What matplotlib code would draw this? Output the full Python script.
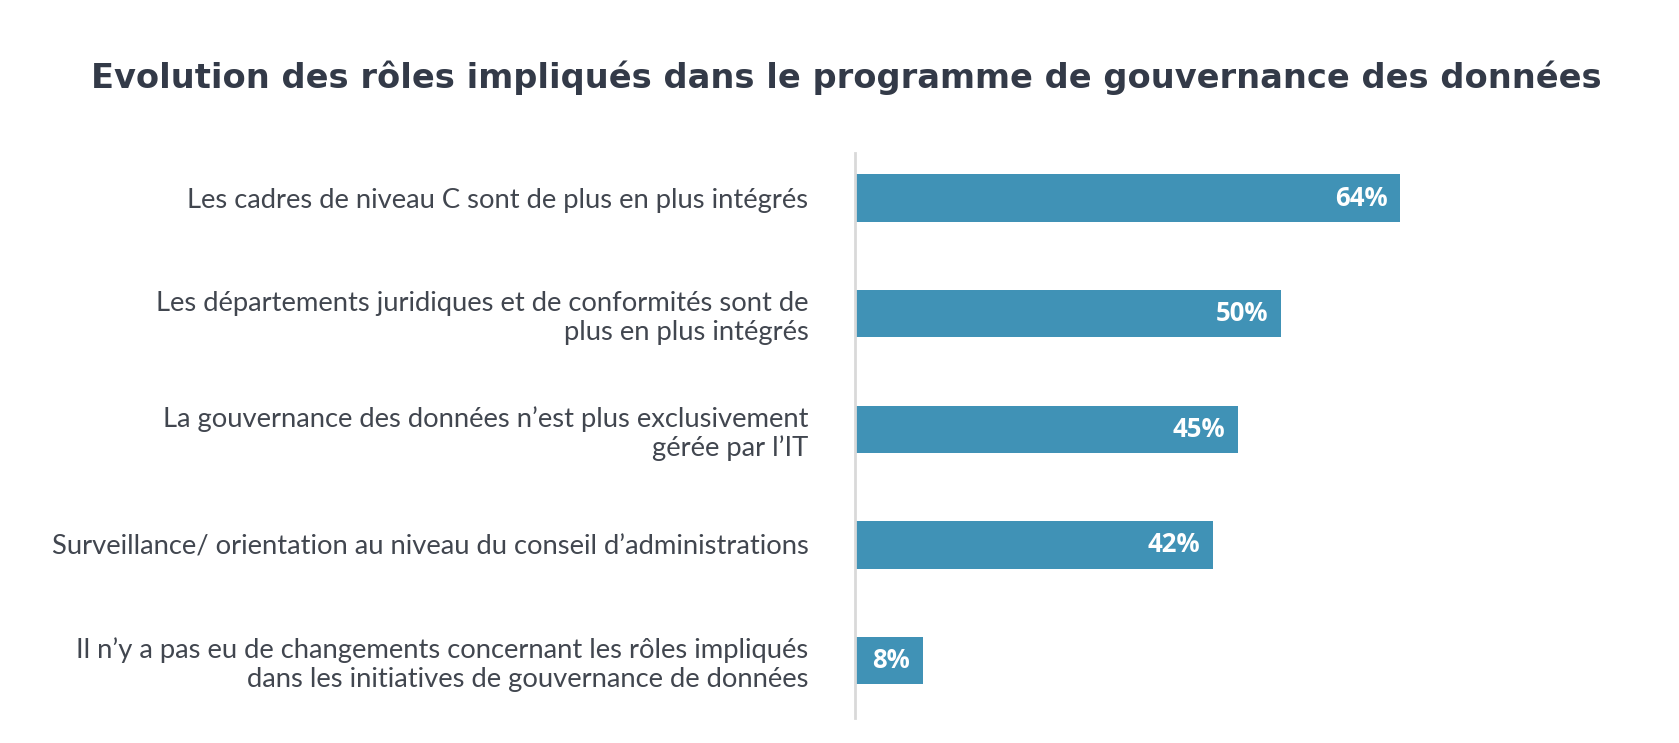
import matplotlib.pyplot as plt

categories = [
    "Les cadres de niveau C sont de plus en plus intégrés",
    "Les départements juridiques et de conformités sont de\nplus en plus intégrés",
    "La gouvernance des données n’est plus exclusivement\ngérée par l’IT",
    "Surveillance/ orientation au niveau du conseil d’administrations",
    "Il n’y a pas eu de changements concernant les rôles impliqués\ndans les initiatives de gouvernance de données",
]
values = [64, 50, 45, 42, 8]

W, H = 1679, 743
fig = plt.figure(figsize=(W / 100, H / 100), dpi=100)
fig.patch.set_facecolor("white")

# axes placed in pixels: left 855, right 1600, top 153, bottom 718
ax = fig.add_axes([855 / W, 1 - 718 / H, (1600 - 855) / W, (718 - 153) / H])
px_per_unit = 8.52
ax.set_xlim(0, (1600 - 855) / px_per_unit)
ax.set_ylim(4 + 57.5 / 115.6, -45 / 115.6)

bar_color = "#4092b6"
pos = list(range(len(categories)))
ax.barh(pos, values, height=0.41, color=bar_color, zorder=2)

for y, v in zip(pos, values):
    ax.text(v - 13 / px_per_unit, y, f"{v}%", ha="right", va="center",
            color="white", fontsize=18.5, fontweight="bold", family="Open Sans")

ax.set_yticks(pos)
ax.set_yticklabels(categories, fontsize=19.7, color="#41464f",
                   family="Lato", fontweight="normal", linespacing=1.19)
ax.tick_params(axis="y", length=0, pad=33.5, labelcolor="#41464f")
ax.set_xticks([])
for s in ["top", "right", "bottom"]:
    ax.spines[s].set_visible(False)
ax.spines["left"].set_color("#d9d9d9")
ax.spines["left"].set_linewidth(2)
ax.set_facecolor("none")

fig.text(0.504, 1 - 78 / H, "Evolution des rôles impliqués dans le programme de gouvernance des données",
         ha="center", va="center", fontsize=24.2, fontweight="bold", color="#333a48",
         family="DejaVu Sans")

fig.savefig("out.png", dpi=100, facecolor="white")
